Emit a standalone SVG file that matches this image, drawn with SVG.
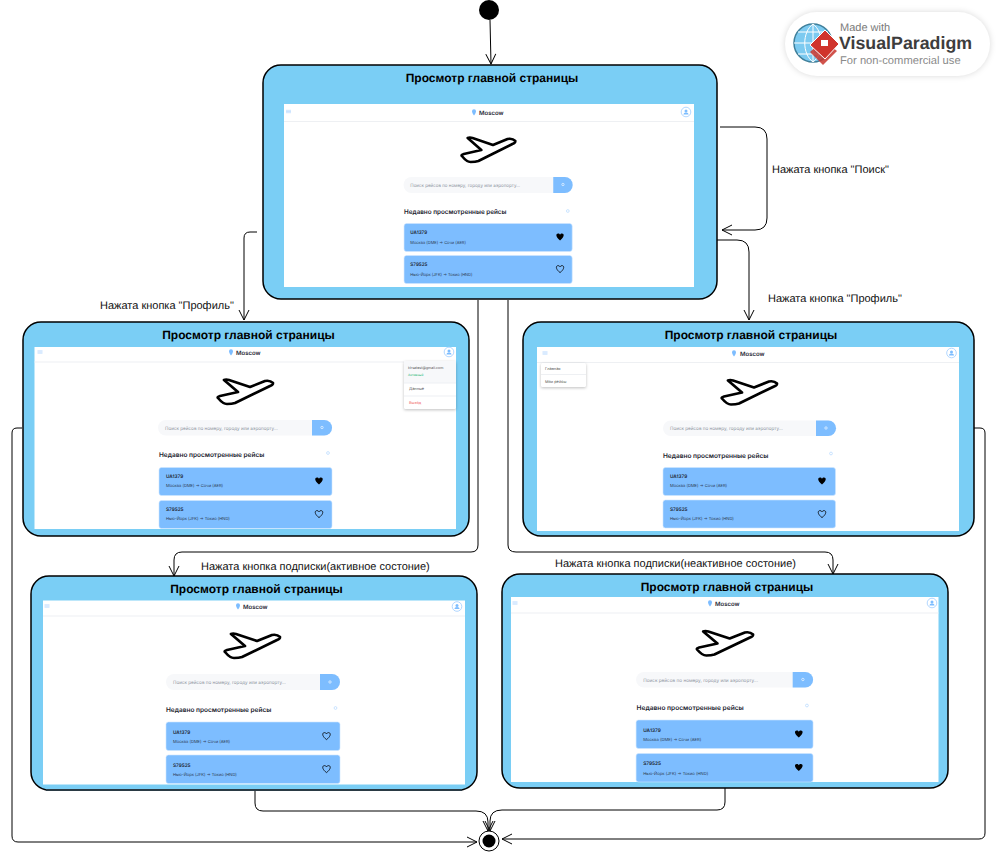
<svg xmlns="http://www.w3.org/2000/svg" width="999" height="857" viewBox="0 0 999 857">
<style>
text{font-family:"Liberation Sans",Arial,sans-serif;text-rendering:geometricPrecision}
.box{fill:#7acef5;stroke:#000;stroke-width:1.5}
.screen{fill:#fff}
.hl{stroke:#eef0f3;stroke-width:1.2}
.title{font-size:12px;font-weight:700;text-anchor:middle;fill:#000}
.lab{font-size:11px;fill:#111}
.city{font-family:Inter,"Liberation Sans",sans-serif;font-size:6px;font-weight:600;fill:#1c2430}
.ph{font-family:Inter,"Liberation Sans",sans-serif;font-size:4.6px;fill:#8d949e}
.h2{font-family:Inter,"Liberation Sans",sans-serif;font-size:6.5px;font-weight:600;fill:#1c2430}
.no{font-family:Inter,"Liberation Sans",sans-serif;font-size:4.7px;font-weight:600;fill:#1c2430}
.rt{font-family:Inter,"Liberation Sans",sans-serif;font-size:4.1px;fill:#2c3a50}
.mi{font-family:Inter,"Liberation Sans",sans-serif;font-size:3.9px;fill:#555}
.search{fill:#f7f8fa}
.card{fill:#7dbdff;stroke:#cfe6ff;stroke-width:.6}
.btn{fill:#7dbdff}
.plane{fill:none;stroke:#000;stroke-width:2.7;stroke-linejoin:round}
.conn{fill:none;stroke:#000;stroke-width:1}
.menu{fill:#fff;filter:drop-shadow(0 1px 1.5px rgba(0,0,0,.25))}
</style>
<defs>
<marker id="open" viewBox="0 0 12 12" refX="11" refY="6" markerWidth="12" markerHeight="12" markerUnits="userSpaceOnUse" orient="auto"><path d="M1 1 11 6 1 11" fill="none" stroke="#000" stroke-width="1"/></marker>
<path id="plane" d="M-21-12Q-19-13-16-12L5-5 20-11Q25-12 28-9Q28-7 25-6L-10 11Q-13 12-18 12Q-22 12-27 6Q-28 5-25 4L-7 0Z"/>
<path id="heart" d="M0 3.6C-5-.2-4.3-3.4-2-3.4-1-3.4-.4-2.9 0-2.2.4-2.9 1-3.4 2-3.4 4.300-3.4 5-.2 0 3.6Z"/>
<path id="pin" d="M0 3.5C-1.5 1.4-2 .3-2-.8A2 2 0 0 1 2-.8C2 .3 1.5 1.4 0 3.5Z" fill="#7dbdff"/>
<g id="avatar"><circle r="4.8" fill="#fff" stroke="#a9d2ff" stroke-width=".9"/><circle cy="-1" r="1.5" fill="#7dbdff"/><path d="M-2.6 2.6A2.6 2 0 0 1 2.6 2.6Z" fill="#7dbdff"/></g>
<path id="burger" d="M-2.5-1.2H2.5M-2.5 0H2.5M-2.5 1.2H2.5" stroke="#a9d2ff" stroke-width=".6"/>
</defs>
<g id="connectors">
<path class="conn" marker-end="url(#open)" d="M490 20 491 64"/>
<path class="conn" marker-end="url(#open)" d="M720 127H755Q767 127 767 139V218Q767 230 755 230H722"/>
<path class="conn" marker-end="url(#open)" d="M716 240H737Q749 240 749 252V320"/>
<path class="conn" marker-end="url(#open)" d="M257 232H250Q244 232 244 238V320"/>
<path class="conn" marker-end="url(#open)" d="M478 300V545Q478 552 471 552H182Q174 552 174 560V576"/>
<path class="conn" marker-end="url(#open)" d="M508 300V545Q508 552 516 552H825Q833 552 833 560V574"/>
<path class="conn" marker-end="url(#open)" d="M22 428H17Q12 428 12 433V836Q12 842 18 842H477"/>
<path class="conn" marker-end="url(#open)" d="M974 428H980Q985 428 985 433V833Q985 839 979 839H502"/>
<path class="conn" marker-end="url(#open)" d="M255 790V803Q255 811 263 811H476Q488 811 488 822V831"/>
<path class="conn" marker-end="url(#open)" d="M725 788V802Q725 810 717 810H502Q490 810 490 821V831"/>
</g>
<g id="start"><circle cx="489" cy="10" r="10" fill="#000"/></g>
<g id="end"><circle cx="489" cy="841" r="10" fill="#fff" stroke="#000" stroke-width="1"/><circle cx="489" cy="841" r="6.5" fill="#000"/></g>

<g id="node-main">
<rect class="box" x="263" y="65" width="454" height="234" rx="18"/>
<text class="title" x="492" y="82">Просмотр главной страницы</text>
<rect class="screen" x="284" y="104" width="410" height="183"/>
<line class="hl" x1="284" y1="121.5" x2="694" y2="121.5"/>
<use href="#burger" x="288.5" y="111.5"/><use href="#pin" x="474" y="112"/>
<text class="city" x="479" y="114.5">Moscow</text><use href="#avatar" x="686" y="112"/>
<g transform="translate(284 104) scale(.972 1)">
<use class="plane" href="#plane" x="210" y="46"/>
<rect class="search" x="123" y="73" width="174" height="16" rx="8"/>
<path class="btn" d="M277 73H289A8 8 0 0 1 289 89H277Z"/>
<text class="ph" x="130" y="82.7">Поиск рейсов по номеру, городу или аэропорту...</text>
<circle cx="287" cy="80.5" r="1.2" fill="none" stroke="#fff" stroke-width=".6"/>
<text class="h2" x="123.5" y="110">Недавно просмотренные рейсы</text>
<circle cx="292" cy="107" r="1.4" fill="none" stroke="#a9d2ff" stroke-width=".6"/>
<rect class="card" x="123.5" y="119.5" width="173" height="28" rx="2.5"/>
<text class="no" x="130" y="130">UA1379</text><text class="rt" x="130" y="139.5">Москва (DME) → Сочи (AER)</text>
<use href="#heart" x="284" y="133"/>
<rect class="card" x="123.5" y="151.5" width="173" height="28" rx="2.5"/>
<text class="no" x="130" y="162">S79525</text><text class="rt" x="130" y="171.5">Нью-Йорк (JFK) → Токио (HND)</text>
<use href="#heart" x="284" y="165" fill="none" stroke="#000" stroke-width=".8"/>
</g>
</g>

<g id="node-profile">
<rect class="box" x="23" y="322" width="446" height="214" rx="18"/>
<text class="title" x="248.5" y="339">Просмотр главной страницы</text>
<rect class="screen" x="34.5" y="347" width="421.5" height="182"/>
<line class="hl" x1="34.5" y1="362" x2="456" y2="362"/>
<use href="#burger" x="40" y="352"/><use href="#pin" x="231" y="352"/>
<text class="city" x="236" y="354.500">Moscow</text><use href="#avatar" x="449" y="352"/>
<g transform="translate(35 347)">
<use class="plane" href="#plane" x="210" y="45"/>
<rect class="search" x="123" y="73" width="174" height="15.5" rx="7.7"/>
<path class="btn" d="M277 73H289.300A7.700 7.700 0 0 1 289.300 88.500H277Z"/>
<text class="ph" x="130" y="82.5">Поиск рейсов по номеру, городу или аэропорту...</text>
<circle cx="287" cy="80.5" r="1.2" fill="none" stroke="#fff" stroke-width=".6"/>
<text class="h2" x="124" y="110">Недавно просмотренные рейсы</text>
<circle cx="293" cy="106" r="1.4" fill="none" stroke="#a9d2ff" stroke-width=".6"/>
<rect class="card" x="124" y="120.5" width="173" height="28" rx="2.5"/>
<text class="no" x="131" y="131">UA1379</text><text class="rt" x="131" y="140">Москва (DME) → Сочи (AER)</text>
<use href="#heart" x="284" y="134"/>
<rect class="card" x="124" y="153.5" width="173" height="28" rx="2.5"/>
<text class="no" x="131" y="164">S79525</text><text class="rt" x="131" y="173">Нью-Йорк (JFK) → Токио (HND)</text>
<use href="#heart" x="284" y="167" fill="none" stroke="#000" stroke-width=".8"/>
</g>
<rect class="menu" x="404" y="361" width="52" height="48" rx="1.5"/>
<rect x="404" y="361" width="52" height="22" fill="#f7f8fa"/>
<line class="hl" x1="404" y1="383" x2="456" y2="383"/><line class="hl" x1="404" y1="396" x2="456" y2="396"/>
<text class="mi" x="408" y="369" style="font-size:3.6px">kirsatest@gmail.com</text>
<text class="mi" x="408" y="376" style="font-size:3.2px;fill:#22b573">Активный</text>
<text class="mi" x="409" y="390">Данные</text>
<text class="mi" x="409" y="404" style="fill:#f06060">Выход</text>
</g>

<g id="node-menu">
<rect class="box" x="523" y="322" width="451" height="214" rx="18"/>
<text class="title" x="751" y="339">Просмотр главной страницы</text>
<rect class="screen" x="537" y="347" width="422" height="184"/>
<line class="hl" x1="537" y1="362.5" x2="959" y2="362.5"/>
<use href="#burger" x="545" y="353"/><use href="#pin" x="734" y="353"/>
<text class="city" x="740" y="355.5">Moscow</text><use href="#avatar" x="951.5" y="353"/>
<g transform="translate(540 347.5)">
<use class="plane" href="#plane" x="209" y="45"/>
<rect class="search" x="123" y="73" width="173" height="15.5" rx="7.7"/>
<path class="btn" d="M276 73H288.300A7.700 7.700 0 0 1 288.300 88.500H276Z"/>
<text class="ph" x="130" y="82.5">Поиск рейсов по номеру, городу или аэропорту...</text>
<circle cx="286" cy="80.5" r="1.2" fill="none" stroke="#fff" stroke-width=".6"/>
<text class="h2" x="123" y="110">Недавно просмотренные рейсы</text>
<circle cx="291" cy="106" r="1.4" fill="none" stroke="#a9d2ff" stroke-width=".6"/>
<rect class="card" x="123" y="120" width="172.5" height="28" rx="2.5"/>
<text class="no" x="130" y="130.5">UA1379</text><text class="rt" x="130" y="139.5">Москва (DME) → Сочи (AER)</text>
<use href="#heart" x="282" y="133.5"/>
<rect class="card" x="123" y="152.5" width="172.5" height="28" rx="2.5"/>
<text class="no" x="130" y="163.5">S79525</text><text class="rt" x="130" y="172.5">Нью-Йорк (JFK) → Токио (HND)</text>
<use href="#heart" x="282" y="166.5" fill="none" stroke="#000" stroke-width=".8"/>
</g>
<rect class="menu" x="541" y="363" width="45" height="24" rx="1.5"/>
<line class="hl" x1="541" y1="374.5" x2="586" y2="374.5"/>
<text class="mi" x="545" y="369.5">Главная</text>
<text class="mi" x="545" y="383">Мои рейсы</text>
</g>

<g id="node-unsubscribed">
<rect class="box" x="31" y="576" width="446" height="214" rx="18"/>
<path d="M46 790H462" stroke="#2a3a44" stroke-width="2" fill="none"/>
<text class="title" x="256.5" y="593">Просмотр главной страницы</text>
<rect class="screen" x="43" y="600.5" width="422" height="184"/>
<line class="hl" x1="43" y1="616" x2="465" y2="616"/>
<use href="#burger" x="47" y="606"/><use href="#pin" x="238" y="606"/>
<text class="city" x="243" y="608.500">Moscow</text><use href="#avatar" x="457" y="606.5"/>
<g transform="translate(43 601)">
<use class="plane" href="#plane" x="209" y="45"/>
<rect class="search" x="123" y="73" width="174" height="16" rx="8"/>
<path class="btn" d="M277 73H289A8 8 0 0 1 289 89H277Z"/>
<text class="ph" x="130" y="82.7">Поиск рейсов по номеру, городу или аэропорту...</text>
<circle cx="287" cy="81" r="1.2" fill="none" stroke="#fff" stroke-width=".6"/>
<text class="h2" x="123" y="111">Недавно просмотренные рейсы</text>
<circle cx="292.5" cy="107" r="1.4" fill="none" stroke="#a9d2ff" stroke-width=".6"/>
<rect class="card" x="123" y="121" width="174" height="28.5" rx="2.5"/>
<text class="no" x="130" y="133">UA1379</text><text class="rt" x="130" y="142">Москва (DME) → Сочи (AER)</text>
<use href="#heart" x="283.5" y="135" fill="none" stroke="#000" stroke-width=".8"/>
<rect class="card" x="123" y="154" width="174" height="28.5" rx="2.5"/>
<text class="no" x="130" y="165.5">S79525</text><text class="rt" x="130" y="175">Нью-Йорк (JFK) → Токио (HND)</text>
<use href="#heart" x="283.5" y="168" fill="none" stroke="#000" stroke-width=".8"/>
</g>
</g>

<g id="node-subscribed">
<rect class="box" x="502" y="574" width="446" height="214" rx="18"/>
<text class="title" x="727" y="591">Просмотр главной страницы</text>
<rect class="screen" x="511" y="597" width="427.5" height="185"/>
<line class="hl" x1="511" y1="613" x2="938.5" y2="613"/>
<use href="#burger" x="515" y="603"/><use href="#pin" x="710" y="603"/>
<text class="city" x="715" y="605.5">Moscow</text><use href="#avatar" x="932" y="603"/>
<g transform="translate(511 598.5) scale(1.017 1)">
<use class="plane" href="#plane" x="210" y="45"/>
<rect class="search" x="123" y="73.5" width="174" height="15.5" rx="7.7"/>
<path class="btn" d="M277 73.500H289.300A7.700 7.700 0 0 1 289.300 89H277Z"/>
<text class="ph" x="130" y="83">Поиск рейсов по номеру, городу или аэропорту...</text>
<circle cx="287" cy="81" r="1.2" fill="none" stroke="#fff" stroke-width=".6"/>
<text class="h2" x="123.5" y="111">Недавно просмотренные рейсы</text>
<circle cx="291" cy="107" r="1.4" fill="none" stroke="#a9d2ff" stroke-width=".6"/>
<rect class="card" x="123" y="121.5" width="174" height="28.5" rx="2.5"/>
<text class="no" x="130" y="133">UA1379</text><text class="rt" x="130" y="142.5">Москва (DME) → Сочи (AER)</text>
<use href="#heart" x="283" y="135.5"/>
<rect class="card" x="123" y="155" width="174" height="28.5" rx="2.5"/>
<text class="no" x="130" y="166.5">S79525</text><text class="rt" x="130" y="176">Нью-Йорк (JFK) → Токио (HND)</text>
<use href="#heart" x="283" y="169"/>
</g>
</g>

<g id="labels">
<text class="lab" x="772" y="173">Нажата кнопка "Поиск"</text>
<text class="lab" x="100" y="309">Нажата кнопка "Профиль"</text>
<text class="lab" x="768" y="302">Нажата кнопка "Профиль"</text>
<text class="lab" x="201" y="570">Нажата кнопка подписки(активное состоние)</text>
<text class="lab" x="555" y="567">Нажата кнопка подписки(неактивное состоние)</text>
</g>

<g id="watermark">
<rect x="785" y="12" width="205" height="64" rx="32" fill="#fff" style="filter:drop-shadow(0 0 3px rgba(0,0,0,.15))"/>
<circle cx="813" cy="43" r="19" fill="#7ccaf0" stroke="#3f7f9a" stroke-width="1.5"/>
<path d="M794 43H832M813 24V62M813 24C802 32 802 54 813 62M813 24C824 32 824 54 813 62M798 32H828M798 54H828" fill="none" stroke="#fff" stroke-width="1"/>
<path d="M810 52 823 65 837 51 823 40Z" fill="#c9352d" opacity=".85"/>
<path d="M810 45 825 30 839 44 825 59Z" fill="#d0342c" stroke="#fff" stroke-width="1"/>
<rect x="821" y="40" width="7" height="6" fill="#fff"/>
<text x="840" y="30.500" style="font-size:11px;fill:#7a7a7a">Made with</text>
<text x="839" y="49" style="font-size:17.800px;font-weight:700;fill:#3d3d3d">VisualParadigm</text>
<text x="840" y="63.500" style="font-size:11.200px;fill:#8a8a8a">For non-commercial use</text>
</g>
</svg>
